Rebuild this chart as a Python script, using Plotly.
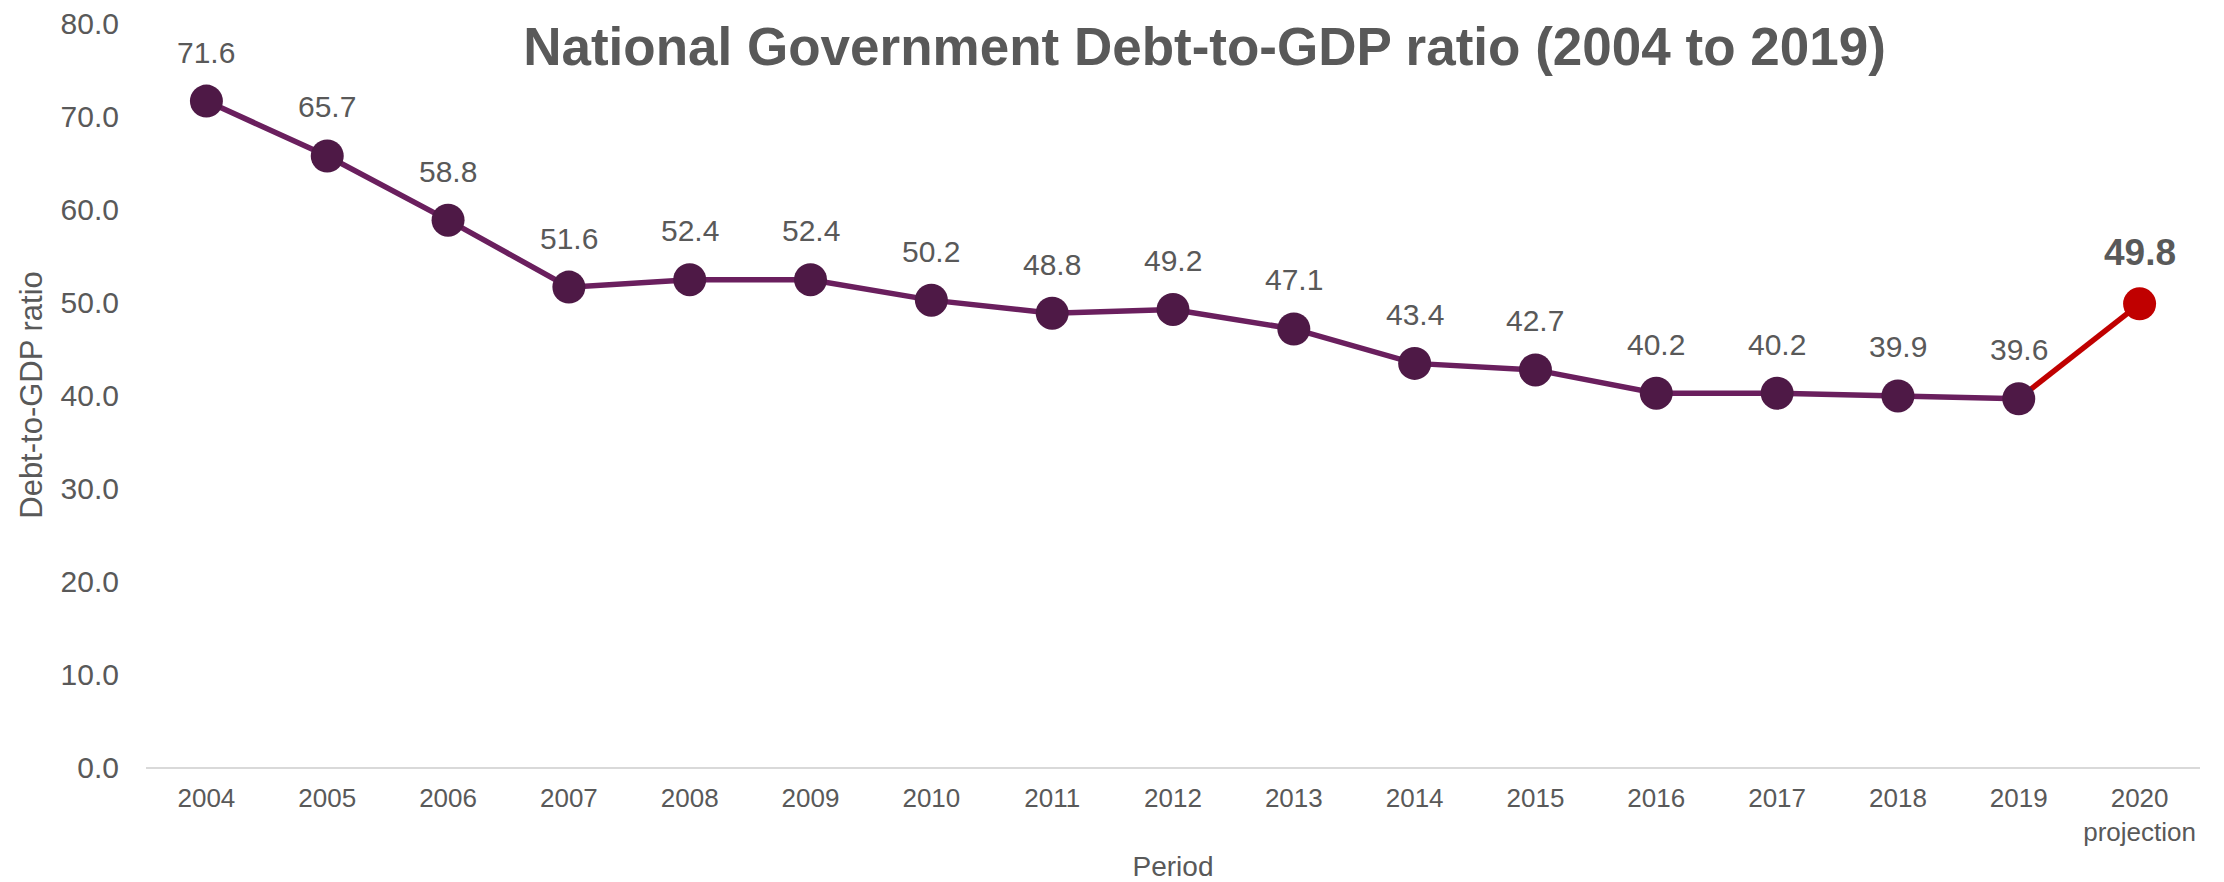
import plotly.graph_objects as go

# Debt-to-GDP ratio by year, with the 2020 projection kept separate
years = ["2004", "2005", "2006", "2007", "2008", "2009", "2010", "2011",
         "2012", "2013", "2014", "2015", "2016", "2017", "2018", "2019"]
ratios = [71.6, 65.7, 58.8, 51.6, 52.4, 52.4, 50.2, 48.8,
          49.2, 47.1, 43.4, 42.7, 40.2, 40.2, 39.9, 39.6]
proj_label = "2020<br>projection"
proj_value = 49.8

y_ticks = [0, 10, 20, 30, 40, 50, 60, 70, 80]

FONT = "Arial, Liberation Sans, sans-serif"
GREY = "#595959"
PURPLE_LINE = "#6A1F5E"
PURPLE_MARK = "#4E1946"
RED = "#C00000"

categories = years + [proj_label]

fig = go.Figure()

# projection segment from the last actual year to 2020
fig.add_trace(go.Scatter(
    x=[years[-1], proj_label], y=[ratios[-1], proj_value],
    mode="lines", line=dict(color=RED, width=5.5),
    hoverinfo="skip", showlegend=False,
))
fig.add_trace(go.Scatter(
    x=[proj_label], y=[proj_value],
    mode="markers", marker=dict(color=RED, size=33, line=dict(width=0)),
    showlegend=False,
))
# actual series
fig.add_trace(go.Scatter(
    x=years, y=ratios,
    mode="lines+markers",
    line=dict(color=PURPLE_LINE, width=5.5),
    marker=dict(color=PURPLE_MARK, size=33, line=dict(width=0)),
    showlegend=False,
))

# value labels above each point (category index positions)
annotations = []
for i, v in enumerate(ratios):
    annotations.append(dict(
        x=i, y=v, xref="x", yref="y", text=f"{v:.1f}",
        showarrow=False, yshift=49, yanchor="middle",
        font=dict(family=FONT, size=30, color=GREY),
    ))
annotations.append(dict(
    x=len(years), y=proj_value, xref="x", yref="y", text=f"{proj_value:.1f}",
    showarrow=False, yshift=51, yanchor="middle",
    font=dict(family=FONT, size=37, color=GREY, weight="bold"),
))

fig.update_layout(
    width=2224, height=882,
    margin=dict(l=146, r=24, t=23, b=115),
    paper_bgcolor="white", plot_bgcolor="white",
    font=dict(family=FONT, color=GREY),
    title=dict(
        text="National Government Debt-to-GDP ratio (2004 to 2019)",
        xref="container", yref="container",
        x=1204.5 / 2224, xanchor="center",
        y=1 - 46 / 882, yanchor="middle",
        font=dict(family=FONT, size=53, color=GREY, weight="bold"),
    ),
    annotations=annotations,
    xaxis=dict(
        type="category",
        categoryorder="array", categoryarray=categories,
        range=[-0.5, len(categories) - 0.5],
        showgrid=False, zeroline=False, automargin=False,
        showline=True, linecolor="#D9D9D9", linewidth=2,
        ticks="", ticklabelstandoff=7,
        tickfont=dict(family=FONT, size=26, color=GREY),
        title=dict(text="Period", standoff=29,
                   font=dict(family=FONT, size=28, color=GREY)),
    ),
    yaxis=dict(
        range=[0, 80], tickvals=y_ticks, tickformat=".1f",
        showgrid=False, zeroline=False, showline=False, automargin=False,
        ticks="", ticklabelstandoff=26,
        tickfont=dict(family=FONT, size=30, color=GREY),
        title=dict(text="Debt-to-GDP ratio", standoff=8,
                   font=dict(family=FONT, size=31, color=GREY)),
    ),
)

fig.write_html("out.html")
